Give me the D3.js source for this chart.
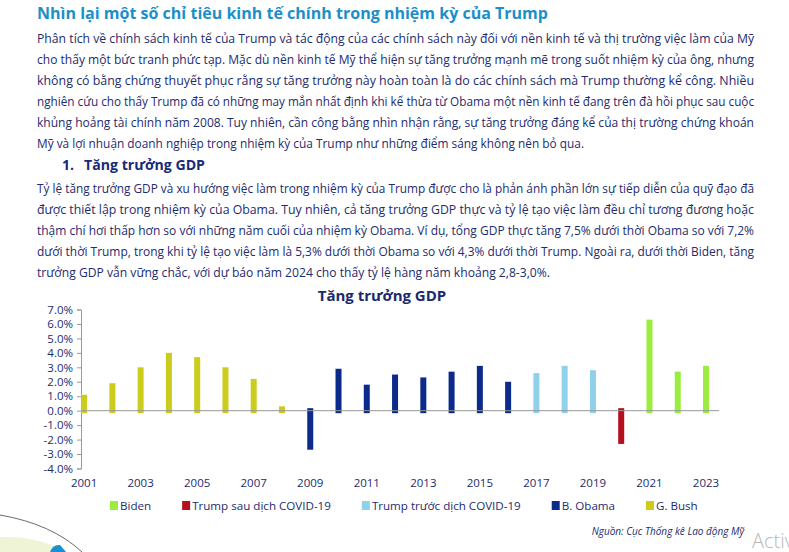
<!DOCTYPE html>
<html>
<head>
<meta charset="utf-8">
<script src="https://cdn.jsdelivr.net/npm/d3@7"></script>
<style>
  html, body { margin: 0; padding: 0; background: #fff; overflow: hidden; }
  svg { display: block; font-family: "Open Sans", "Noto Sans", sans-serif; }
</style>
</head>
<body>
<svg id="page" width="789" height="552"></svg>
<script>
// --- texte de la page
const pageTitle = 'Nhìn lại một số chỉ tiêu kinh tế chính trong nhiệm kỳ của Trump';
const para1 = [
  'Phân tích về chính sách kinh tế của Trump và tác động của các chính sách này đối với nền kinh tế và thị trường việc làm của Mỹ',
  'cho thấy một bức tranh phức tạp. Mặc dù nền kinh tế Mỹ thể hiện sự tăng trưởng mạnh mẽ trong suốt nhiệm kỳ của ông, nhưng',
  'không có bằng chứng thuyết phục rằng sự tăng trưởng này hoàn toàn là do các chính sách mà Trump thường kể công. Nhiều',
  'nghiên cứu cho thấy Trump đã có những may mắn nhất định khi kế thừa từ Obama một nền kinh tế đang trên đà hồi phục sau cuộc',
  'khủng hoảng tài chính năm 2008. Tuy nhiên, cần công bằng nhìn nhận rằng, sự tăng trưởng đáng kể của thị trường chứng khoán',
  'Mỹ và lợi nhuận doanh nghiệp trong nhiệm kỳ của Trump như những điểm sáng không nên bỏ qua.'
];
const heading = 'Tăng trưởng GDP';
const para2 = [
  'Tỷ lệ tăng trưởng GDP và xu hướng việc làm trong nhiệm kỳ của Trump được cho là phản ánh phần lớn sự tiếp diễn của quỹ đạo đã',
  'được thiết lập trong nhiệm kỳ của Obama. Tuy nhiên, cả tăng trưởng GDP thực và tỷ lệ tạo việc làm đều chỉ tương đương hoặc',
  'thậm chí hơi thấp hơn so với những năm cuối của nhiệm kỳ Obama. Ví dụ, tổng GDP thực tăng 7,5% dưới thời Obama so với 7,2%',
  'dưới thời Trump, trong khi tỷ lệ tạo việc làm là 5,3% dưới thời Obama so với 4,3% dưới thời Trump. Ngoài ra, dưới thời Biden, tăng',
  'trưởng GDP vẫn vững chắc, với dự báo năm 2024 cho thấy tỷ lệ hàng năm khoảng 2,8-3,0%.'
];

// --- données du graphique
const chartTitle = 'Tăng trưởng GDP';
const years = [2001, 2002, 2003, 2004, 2005, 2006, 2007, 2008, 2009, 2010, 2011, 2012,
               2013, 2014, 2015, 2016, 2017, 2018, 2019, 2020, 2021, 2022, 2023];
const gdpGrowth = [1.1, 1.9, 3.0, 4.0, 3.7, 3.0, 2.2, 0.3, -2.7, 2.9, 1.8, 2.5,
                   2.3, 2.7, 3.1, 2.0, 2.6, 3.1, 2.8, -2.3, 6.3, 2.7, 3.1];
const periods = ['G. Bush', 'G. Bush', 'G. Bush', 'G. Bush', 'G. Bush', 'G. Bush', 'G. Bush', 'G. Bush',
                 'B. Obama', 'B. Obama', 'B. Obama', 'B. Obama', 'B. Obama', 'B. Obama', 'B. Obama', 'B. Obama',
                 'Trump trước dịch COVID-19', 'Trump trước dịch COVID-19', 'Trump trước dịch COVID-19',
                 'Trump sau dịch COVID-19', 'Biden', 'Biden', 'Biden'];
const legendOrder = ['Biden', 'Trump sau dịch COVID-19', 'Trump trước dịch COVID-19', 'B. Obama', 'G. Bush'];
const periodColors = ['#9aec3e', '#b4101e', '#8fd0ea', '#0c2a8c', '#cccc1c'];
const yTicks = [-4, -3, -2, -1, 0, 1, 2, 3, 4, 5, 6, 7];
const xLabelYears = [2001, 2003, 2005, 2007, 2009, 2011, 2013, 2015, 2017, 2019, 2021, 2023];
const sourceText = 'Nguồn: Cục Thống kê Lao động Mỹ';

const navy = '#1d2c6e';
const svg = d3.select('#page');

// --- décor bas gauche
const deco = svg.append('g');
deco.append('ellipse').attr('cx', 8).attr('cy', 575).attr('rx', 70).attr('ry', 38).attr('fill', '#eff4d6');
deco.append('path').attr('d', 'M0,515 Q52,524 82,552').attr('fill', 'none').attr('stroke', '#444').attr('stroke-width', 0.8);
deco.append('path').attr('d', 'M50,552 Q53,544 60,545 L66,552 Z').attr('fill', '#1b8fd2');

// --- titre et paragraphes
svg.append('text').attr('x', 37).attr('y', 19)
  .attr('font-size', 16.5).attr('font-weight', 700).attr('fill', '#1c8fc9')
  .attr('textLength', 511).attr('lengthAdjust', 'spacingAndGlyphs')
  .text(pageTitle);

function paragraph(lines, top, lastEnd) {
  const g = svg.append('g').attr('fill', navy).attr('font-size', 12.3);
  lines.forEach((line, i) => {
    const right = i === lines.length - 1 ? lastEnd : 754;
    g.append('text').attr('x', 37).attr('y', top + i * 21)
      .attr('textLength', right - 37).attr('lengthAdjust', 'spacingAndGlyphs')
      .text(line);
  });
}
paragraph(para1, 42.5, 584);

svg.append('text').attr('x', 62).attr('y', 170).attr('font-size', 14).attr('font-weight', 700).attr('fill', '#1a2a78').text('1.');
svg.append('text').attr('x', 84).attr('y', 170).attr('font-size', 14).attr('font-weight', 700).attr('fill', '#1a2a78')
  .attr('textLength', 121).attr('lengthAdjust', 'spacingAndGlyphs').text(heading);

paragraph(para2, 192.5, 550);

// --- graphique
const x = d3.scalePoint().domain(years).range([84.1, 706]);
const y = d3.scaleLinear().domain([-4, 7]).range([468.5, 309.5]);
const color = d3.scaleOrdinal().domain(legendOrder).range(periodColors);
const barW = 6, over = 2.5;

svg.append('text').attr('x', 382).attr('y', 301).attr('text-anchor', 'middle')
  .attr('font-size', 15).attr('font-weight', 700).attr('fill', '#1a2a6c').text(chartTitle);

const yAxis = svg.append('g').attr('transform', 'translate(81,0)')
  .call(d3.axisLeft(y).tickValues(yTicks).tickFormat(d => d.toFixed(1) + '%').tickSize(4).tickPadding(4));
yAxis.select('.domain').attr('stroke', '#999');
yAxis.selectAll('.tick line').attr('stroke', '#999');
yAxis.selectAll('.tick text').attr('fill', navy).attr('font-size', 11.5).attr('font-family', '"Open Sans", sans-serif');

const bars = years.map((yr, i) => ({ year: yr, value: gdpGrowth[i], period: periods[i] }));
svg.append('g').selectAll('rect').data(bars).join('rect')
  .attr('x', d => x(d.year) - barW / 2)
  .attr('width', barW)
  .attr('y', d => d.value >= 0 ? y(d.value) : y(0) - over)
  .attr('height', d => Math.abs(y(d.value) - y(0)) + over)
  .attr('fill', d => color(d.period));

svg.append('line').attr('x1', 81).attr('x2', 719).attr('y1', y(0)).attr('y2', y(0))
  .attr('stroke', '#999').attr('stroke-width', 1);

svg.append('g').selectAll('text').data(xLabelYears).join('text')
  .attr('x', d => x(d)).attr('y', 487).attr('text-anchor', 'middle')
  .attr('font-size', 11.5).attr('fill', navy).text(d => d);

// --- légende
const legend = svg.append('g').attr('font-size', 11.6).attr('fill', navy);
let lx = 110;
legendOrder.forEach(name => {
  legend.append('rect').attr('x', lx).attr('y', 501).attr('width', 8).attr('height', 9).attr('fill', color(name));
  const t = legend.append('text').attr('x', lx + 10).attr('y', 509.5).text(name);
  lx += 10 + t.node().getComputedTextLength() + 31;
});

svg.append('text').attr('x', 744).attr('y', 535).attr('text-anchor', 'end')
  .attr('font-size', 10).attr('font-style', 'italic').attr('fill', navy).text(sourceText);

svg.append('text').attr('x', 752).attr('y', 548).attr('font-size', 20).attr('font-weight', 300)
  .attr('fill', '#b8b8b8').text('Activ');
</script>
</body>
</html>
